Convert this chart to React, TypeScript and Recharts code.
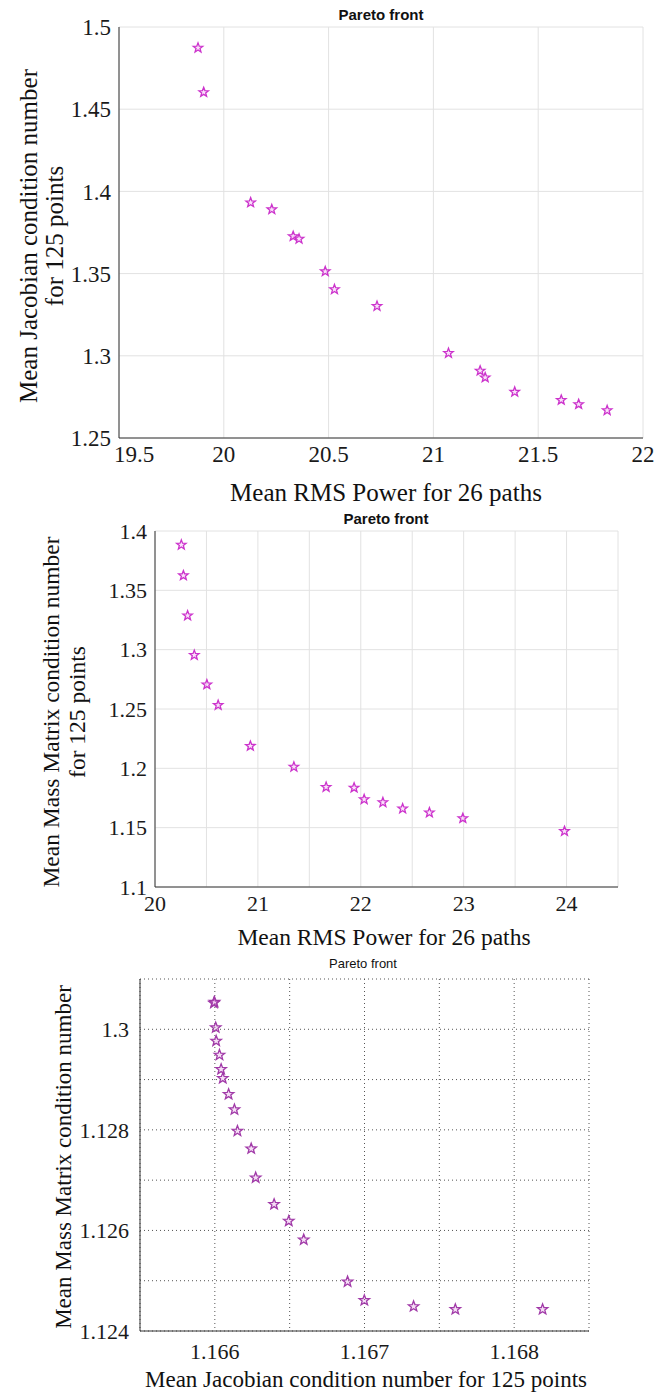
import { ScatterChart, Scatter, XAxis, YAxis, CartesianGrid } from 'recharts';
import type { CSSProperties } from 'react';

// --- chart 1: RMS power vs Jacobian condition number ---
const rmsPowerA = [19.877, 19.904, 20.128, 20.229, 20.331, 20.359, 20.484, 20.528, 20.731, 21.072, 21.223, 21.247, 21.388, 21.61, 21.693, 21.829];
const jacobianA = [1.4873, 1.4603, 1.3932, 1.389, 1.3727, 1.3711, 1.3513, 1.3404, 1.3302, 1.3016, 1.2909, 1.2868, 1.278, 1.2731, 1.2705, 1.2668];
const xTicksA = [19.5, 20, 20.5, 21, 21.5, 22];
const yTicksA = [1.25, 1.3, 1.35, 1.4, 1.45, 1.5];

// --- chart 2: RMS power vs mass matrix condition number ---
const rmsPowerB = [20.256, 20.276, 20.317, 20.382, 20.504, 20.614, 20.927, 21.35, 21.663, 21.935, 22.033, 22.215, 22.407, 22.667, 22.992, 23.98];
const massMatrixB = [1.3883, 1.3625, 1.3287, 1.2954, 1.2706, 1.2532, 1.2188, 1.2012, 1.1842, 1.1836, 1.1738, 1.1713, 1.166, 1.1627, 1.1579, 1.147];
const xTicksB = [20, 20.5, 21, 21.5, 22, 22.5, 23, 23.5, 24, 24.5];
const xLabelsB = [20, 21, 22, 23, 24];
const yTicksB = [1.1, 1.15, 1.2, 1.25, 1.3, 1.35, 1.4];

// --- chart 3: Jacobian vs mass matrix condition number ---
const jacobianC = [1.165994, 1.165998, 1.166006, 1.166009, 1.166031, 1.166042, 1.166053, 1.166092, 1.166131, 1.166151, 1.166243, 1.166273, 1.166396, 1.166494, 1.166594, 1.166887, 1.166999, 1.167328, 1.167607, 1.16819];
const massMatrixC = [1.130524, 1.13054, 1.130033, 1.129768, 1.129489, 1.129204, 1.129025, 1.128707, 1.128402, 1.127977, 1.127626, 1.127049, 1.126519, 1.126187, 1.125816, 1.12498, 1.124609, 1.124489, 1.12443, 1.12443];
const xTicksC = [1.1655, 1.166, 1.1665, 1.167, 1.1675, 1.168, 1.1685];
const xLabelsC = [1.166, 1.167, 1.168];
const yTicksC = [1.124, 1.125, 1.126, 1.127, 1.128, 1.129, 1.13, 1.131];
const yLabelsC: [number, string][] = [
  [1.124, '1.124'],
  [1.126, '1.126'],
  [1.128, '1.128'],
  [1.13, '1.3'],
];

const SERIF = "'Liberation Serif', 'Times New Roman', serif";
const SANS = "'Liberation Sans', Arial, sans-serif";
const tickStyle = { fontSize: 22, fill: '#1a1a1a', fontFamily: SERIF };
const tickStyleA = { ...tickStyle, fontSize: 23 };

const near = (a: number, b: number) => Math.abs(a - b) < 1e-7;

function starPath(cx: number, cy: number, r: number): string {
  const pts: string[] = [];
  for (let i = 0; i < 10; i++) {
    const rad = i % 2 === 0 ? r : r * 0.42;
    const a = -Math.PI / 2 + (i * Math.PI) / 5;
    pts.push(`${(cx + rad * Math.cos(a)).toFixed(2)},${(cy + rad * Math.sin(a)).toFixed(2)}`);
  }
  return 'M' + pts.join('L') + 'Z';
}

function makeStar(r: number, stroke: string, fill: string) {
  return (props: any) => {
    if (props.cx == null || props.cy == null) return <g />;
    return <path d={starPath(props.cx, props.cy, r)} stroke={stroke} strokeWidth={1.3} fill={fill} />;
  };
}

// first x label sits a little right of the axis corner, like the original
function XTickA(props: any) {
  const { x, y, payload } = props;
  const dx = near(payload.value, 19.5) ? 15 : 0;
  return (
    <text x={x + dx} y={y} dy="0.71em" textAnchor="middle" fill={tickStyleA.fill} fontSize={tickStyleA.fontSize} fontFamily={SERIF}>
      {String(payload.value)}
    </text>
  );
}

function Text({ x, y, style, children, rotate }: { x: number; y: number; style?: CSSProperties; children: React.ReactNode; rotate?: boolean }) {
  return (
    <div
      style={{
        position: 'absolute',
        left: x,
        top: y,
        transform: `translate(-50%, -50%)${rotate ? ' rotate(-90deg)' : ''}`,
        whiteSpace: 'nowrap',
        textAlign: 'center',
        color: '#111',
        ...style,
      }}
    >
      {children}
    </div>
  );
}

const labelA: CSSProperties = { fontFamily: SERIF, fontSize: 25, lineHeight: '26px' };
const labelB: CSSProperties = { fontFamily: SERIF, fontSize: 23.5, lineHeight: '26px' };
const labelC: CSSProperties = { fontFamily: SERIF, fontSize: 23, lineHeight: '26px' };
const titleBold: CSSProperties = { fontFamily: SANS, fontWeight: 'bold', fontSize: 15 };

export default function App() {
  const dataA = rmsPowerA.map((x, i) => ({ x, y: jacobianA[i] }));
  const dataB = rmsPowerB.map((x, i) => ({ x, y: massMatrixB[i] }));
  const dataC = jacobianC.map((x, i) => ({ x, y: massMatrixC[i] }));

  return (
    <div style={{ position: 'absolute', left: 0, top: 0, width: 655, height: 1395, background: '#fff', overflow: 'hidden' }}>
      {/* chart 1 */}
      <div style={{ position: 'absolute', left: 0, top: 0 }}>
        <ScatterChart width={655} height={500} margin={{ top: 27, right: 12, bottom: 0, left: 0 }}>
          <CartesianGrid stroke="#e2e2e2" />
          <XAxis
            type="number"
            dataKey="x"
            domain={[19.5, 22]}
            ticks={xTicksA}
            allowDataOverflow
            height={62}
            tick={<XTickA />}
            tickLine={false}
            axisLine={{ stroke: '#333' }}
          />
          <YAxis
            type="number"
            dataKey="y"
            domain={[1.25, 1.5]}
            ticks={yTicksA}
            allowDataOverflow
            width={119}
            tick={tickStyleA}
            tickLine={false}
            axisLine={{ stroke: '#333' }}
            tickFormatter={(v) => String(v)}
          />
          <Scatter data={dataA} isAnimationActive={false} shape={makeStar(5, '#cc33cc', 'rgba(240,170,240,0.35)')} />
        </ScatterChart>
      </div>
      <Text x={381} y={14} style={titleBold}>Pareto front</Text>
      <Text x={386} y={493} style={labelA}>Mean RMS Power for 26 paths</Text>
      <Text x={42} y={236} rotate style={labelA}>
        Mean Jacobian condition number
        <br />
        for 125 points
      </Text>

      {/* chart 2 */}
      <div style={{ position: 'absolute', left: 0, top: 500 }}>
        <ScatterChart width={655} height={460} margin={{ top: 31, right: 37, bottom: 0, left: 0 }}>
          <CartesianGrid stroke="#e2e2e2" />
          <XAxis
            type="number"
            dataKey="x"
            domain={[20, 24.5]}
            ticks={xTicksB}
            allowDataOverflow
            height={73}
            tick={tickStyle}
            tickLine={false}
            axisLine={{ stroke: '#333' }}
            tickFormatter={(v) => (xLabelsB.some((l) => near(l, v)) ? String(v) : '')}
          />
          <YAxis
            type="number"
            dataKey="y"
            domain={[1.1, 1.4]}
            ticks={yTicksB}
            allowDataOverflow
            width={155}
            tick={tickStyle}
            tickLine={false}
            axisLine={{ stroke: '#333' }}
            tickFormatter={(v) => String(v)}
          />
          <Scatter data={dataB} isAnimationActive={false} shape={makeStar(5, '#cc33cc', 'rgba(240,170,240,0.35)')} />
        </ScatterChart>
      </div>
      <Text x={386} y={518} style={titleBold}>Pareto front</Text>
      <Text x={384} y={937} style={labelB}>Mean RMS Power for 26 paths</Text>
      <Text x={64} y={712} rotate style={labelB}>
        Mean Mass Matrix condition number
        <br />
        for 125 points
      </Text>

      {/* chart 3 */}
      <div style={{ position: 'absolute', left: 0, top: 960 }}>
        <ScatterChart width={655} height={435} margin={{ top: 19, right: 66, bottom: 0, left: 0 }}>
          <CartesianGrid stroke="#555" strokeDasharray="1 3" />
          <XAxis
            type="number"
            dataKey="x"
            domain={[1.1655, 1.1685]}
            ticks={xTicksC}
            allowDataOverflow
            height={64}
            tick={tickStyle}
            tickLine={false}
            tickMargin={6}
            axisLine={{ stroke: '#333' }}
            tickFormatter={(v) => (xLabelsC.some((l) => near(l, v)) ? v.toFixed(3) : '')}
          />
          <YAxis
            type="number"
            dataKey="y"
            domain={[1.124, 1.131]}
            ticks={yTicksC}
            allowDataOverflow
            width={140}
            tick={tickStyle}
            tickLine={false}
            tickMargin={5}
            axisLine={{ stroke: '#333' }}
            tickFormatter={(v) => {
              const hit = yLabelsC.find(([t]) => near(t, v));
              return hit ? hit[1] : '';
            }}
          />
          <Scatter data={dataC} isAnimationActive={false} shape={makeStar(5.5, '#a13aa8', 'rgba(225,150,225,0.3)')} />
        </ScatterChart>
      </div>
      <Text x={363} y={963} style={{ fontFamily: "'Liberation Sans Narrow', 'Liberation Sans', sans-serif", fontSize: 13 }}>Pareto front</Text>
      <Text x={366} y={1380} style={labelC}>Mean Jacobian condition number for 125 points</Text>
      <Text x={64} y={1157} rotate style={labelC}>Mean Mass Matrix condition number</Text>
    </div>
  );
}
